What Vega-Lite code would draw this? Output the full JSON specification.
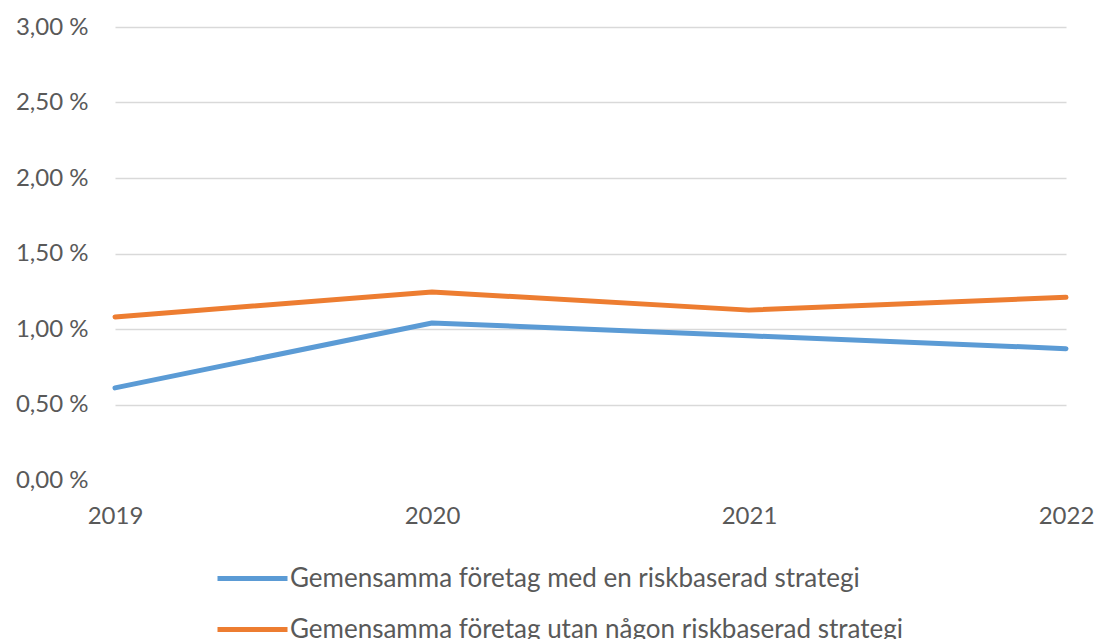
{
  "$schema": "https://vega.github.io/schema/vega-lite/v6.json",
  "width": 951,
  "height": 453,
  "autosize": {"type": "none"},
  "padding": {"left": 115, "top": 27, "right": 28, "bottom": 159},
  "background": "white",
  "config": {
    "view": {"stroke": null},
    "font": "Lato"
  },
  "data": {
    "values": [
      {"year": 2019, "serie": "Gemensamma företag med en riskbaserad strategi", "value": 0.61},
      {"year": 2020, "serie": "Gemensamma företag med en riskbaserad strategi", "value": 1.04},
      {"year": 2021, "serie": "Gemensamma företag med en riskbaserad strategi", "value": 0.955},
      {"year": 2022, "serie": "Gemensamma företag med en riskbaserad strategi", "value": 0.87},
      {"year": 2019, "serie": "Gemensamma företag utan någon riskbaserad strategi", "value": 1.08},
      {"year": 2020, "serie": "Gemensamma företag utan någon riskbaserad strategi", "value": 1.245},
      {"year": 2021, "serie": "Gemensamma företag utan någon riskbaserad strategi", "value": 1.125},
      {"year": 2022, "serie": "Gemensamma företag utan någon riskbaserad strategi", "value": 1.21}
    ]
  },
  "mark": {"type": "line", "strokeWidth": 5, "strokeCap": "round", "strokeJoin": "round"},
  "encoding": {
    "x": {
      "field": "year",
      "type": "quantitative",
      "scale": {"domain": [2019, 2022], "nice": false, "zero": false},
      "axis": {
        "title": null,
        "values": [2019, 2020, 2021, 2022],
        "format": "d",
        "grid": false,
        "domain": false,
        "ticks": false,
        "labelPadding": 24,
        "labelFontSize": 24,
        "labelColor": "#595959",
        "labelFont": "Lato",
        "labelFlush": false,
        "labelOverlap": false
      }
    },
    "y": {
      "field": "value",
      "type": "quantitative",
      "scale": {"domain": [0, 3], "nice": false},
      "axis": {
        "title": null,
        "values": [0, 0.5, 1, 1.5, 2, 2.5, 3],
        "labelExpr": "replace(format(datum.value, '.2f'), '.', ',') + ' %'",
        "domain": false,
        "ticks": false,
        "gridColor": "#d9d9d9",
        "gridWidth": 1.5,
        "gridOpacity": {"condition": {"test": "datum.value === 0", "value": 0}, "value": 1},
        "labelPadding": 27,
        "labelFontSize": 24,
        "labelColor": "#595959",
        "labelFont": "Lato"
      }
    },
    "color": {
      "field": "serie",
      "type": "nominal",
      "scale": {
        "domain": ["Gemensamma företag med en riskbaserad strategi", "Gemensamma företag utan någon riskbaserad strategi"],
        "range": ["#5b9bd5", "#ed7d31"]
      },
      "legend": {
        "title": null,
        "orient": "none",
        "legendX": 100,
        "legendY": 514,
        "direction": "vertical",
        "symbolType": "stroke",
        "symbolSize": 4900,
        "symbolStrokeWidth": 5,
        "labelFontSize": 26,
        "labelColor": "#595959",
        "labelFont": "Lato",
        "labelOffset": 0,
        "rowPadding": -21,
        "labelLimit": 900
      }
    }
  }
}
